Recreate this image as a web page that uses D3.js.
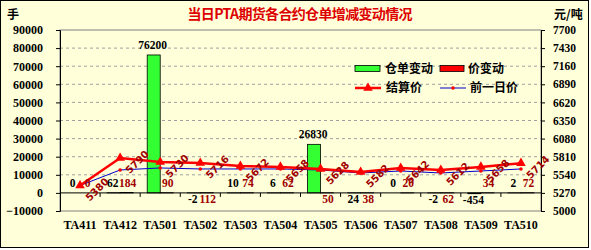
<!DOCTYPE html>
<html>
<head>
<meta charset="utf-8">
<script src="https://cdn.jsdelivr.net/npm/d3@7"></script>
<style>
body { margin: 0; background: #fff; }
svg text { font-family: "Liberation Serif", "Noto Sans CJK SC", serif; font-weight: bold; }
svg text.cjk { font-family: "Noto Sans CJK SC", sans-serif; }
svg text.rot { font-family: "DejaVu Sans", sans-serif; }
</style>
</head>
<body>
<svg id="chart" width="591" height="250"></svg>
<script>
// contracts and values
const contracts = ['TA411', 'TA412', 'TA501', 'TA502', 'TA503', 'TA504', 'TA505', 'TA506', 'TA507', 'TA508', 'TA509', 'TA510'];
const stockChange = [0, 62, 76200, -2, 10, 6, 26830, 24, 0, -2, -454, 2];      // 仓单变动 (手)
const priceChange = [0, 184, 90, 112, 74, 62, 50, 38, 20, 62, 34, 72];         // 价变动
const settlePrice = [5380, 5790, 5730, 5716, 5672, 5658, 5628, 5582, 5642, 5612, 5658, 5714]; // 结算价
const prevPrice = [5380, 5612, 5642, 5627, 5627, 5627, 5612, 5567, 5597, 5567, 5597, 5627];   // 前一日价
const leftTicks = [-10000, 0, 10000, 20000, 30000, 40000, 50000, 60000, 70000, 80000, 90000];
const rightTicks = [5000, 5270, 5540, 5810, 6080, 6350, 6620, 6890, 7160, 7430, 7700];

const svg = d3.select('#chart');
const plotLeft = 60, plotRight = 541, plotTop = 30, plotBottom = 211;

// labels that sit under the zero line in the original
const lowStock = ['TA506'];
const lowPrice = ['TA502', 'TA505', 'TA506', 'TA508'];

svg.append('rect')
    .attr('x', 0.5).attr('y', 0.5)
    .attr('width', 588).attr('height', 247)
    .attr('fill', '#ffffda')
    .attr('stroke', '#000');

const x = d3.scaleBand().domain(contracts).range([plotLeft, plotRight]);
const bw = x.bandwidth();
const cx = c => x(c) + bw / 2;
const yL = d3.scaleLinear().domain([-10000, 90000]).range([plotBottom, plotTop]);
const yR = d3.scaleLinear().domain([5000, 7700]).range([plotBottom, plotTop]);
const y0 = yL(0);

// dashed grid
svg.append('g').selectAll('line')
    .data(leftTicks.filter(t => t !== 0 && t !== -10000 && t !== 90000))
    .enter().append('line')
    .attr('x1', plotLeft).attr('x2', plotRight)
    .attr('y1', d => yL(d)).attr('y2', d => yL(d))
    .attr('stroke', '#a0a0a0')
    .attr('stroke-dasharray', '3,3');

svg.append('rect')
    .attr('x', plotLeft).attr('y', plotTop)
    .attr('width', plotRight - plotLeft).attr('height', plotBottom - plotTop)
    .attr('fill', 'none')
    .attr('stroke', '#808080');

// bars
const barW = 13;
svg.append('g').selectAll('rect')
    .data(contracts)
    .enter().append('rect')
    .attr('x', c => cx(c) - barW)
    .attr('y', (c, i) => yL(Math.max(stockChange[i], 0)))
    .attr('width', barW)
    .attr('height', (c, i) => Math.abs(yL(stockChange[i]) - y0))
    .attr('fill', '#33ff33')
    .attr('stroke', '#000')
    .attr('stroke-width', 0.8);

svg.append('g').selectAll('rect')
    .data(contracts)
    .enter().append('rect')
    .attr('x', c => cx(c))
    .attr('y', (c, i) => yL(Math.max(priceChange[i], 0)))
    .attr('width', barW)
    .attr('height', (c, i) => Math.abs(yL(priceChange[i]) - y0))
    .attr('fill', '#ff0000')
    .attr('stroke', '#000')
    .attr('stroke-width', 0.8);

// zero line with category ticks
svg.append('line')
    .attr('x1', plotLeft).attr('x2', plotRight)
    .attr('y1', y0).attr('y2', y0)
    .attr('stroke', '#000');
svg.append('g').selectAll('line')
    .data(contracts.slice(1))
    .enter().append('line')
    .attr('x1', c => x(c)).attr('x2', c => x(c))
    .attr('y1', y0).attr('y2', y0 + 4)
    .attr('stroke', '#000');

// axes
const axL = svg.append('g')
    .attr('transform', `translate(${plotLeft},0)`)
    .call(d3.axisLeft(yL).tickValues(leftTicks).tickSize(4).tickPadding(13).tickFormat(d3.format('d')));
const axR = svg.append('g')
    .attr('transform', `translate(${plotRight},0)`)
    .call(d3.axisRight(yR).tickValues(rightTicks).tickSize(4).tickPadding(8).tickFormat(d3.format('d')));
const axB = svg.append('g')
    .attr('transform', `translate(0,${plotBottom})`)
    .call(d3.axisBottom(x).tickSize(0).tickPadding(9));
axB.select('.domain').remove();
[axL, axR, axB].forEach(a => {
    a.attr('font-size', 12).attr('font-family', null);
    a.selectAll('text').attr('fill', '#000');
    a.selectAll('.domain, line').attr('stroke', '#000');
});
axR.attr('font-size', 11.5);

// lines
const priceLine = d3.line().x((d, i) => cx(contracts[i])).y(d => yR(d));
svg.append('path')
    .attr('d', priceLine(prevPrice))
    .attr('fill', 'none')
    .attr('stroke', '#0000cc')
    .attr('stroke-width', 1);
svg.append('g').selectAll('circle')
    .data(prevPrice)
    .enter().append('circle')
    .attr('cx', (d, i) => cx(contracts[i]))
    .attr('cy', d => yR(d))
    .attr('r', 1.8)
    .attr('fill', '#ff0000');

svg.append('path')
    .attr('d', priceLine(settlePrice))
    .attr('fill', 'none')
    .attr('stroke', '#ff0000')
    .attr('stroke-width', 2.5);
svg.append('g').selectAll('path')
    .data(settlePrice)
    .enter().append('path')
    .attr('d', d3.symbol(d3.symbolTriangle).size(40))
    .attr('transform', (d, i) => `translate(${cx(contracts[i])},${yR(d)})`)
    .attr('fill', '#ff0000');

// rotated settlement labels
svg.append('g').selectAll('text')
    .data(settlePrice)
    .enter().append('text')
    .attr('class', 'rot')
    .attr('transform', (d, i) => `translate(${cx(contracts[i]) + 17},${yR(d) + 4}) rotate(-45)`)
    .attr('text-anchor', 'middle')
    .attr('dy', '0.35em')
    .attr('font-size', 10)
    .attr('fill', '#a00000')
    .text(d => d);

// bar value labels
svg.append('g').selectAll('text')
    .data(contracts)
    .enter().append('text')
    .attr('x', c => cx(c) - barW / 2 - 1)
    .attr('y', (c, i) => {
        const v = stockChange[i];
        if (v < 0 || lowStock.includes(c)) return yL(Math.min(v, 0)) + 10;
        return yL(v) - 6;
    })
    .attr('text-anchor', 'middle')
    .attr('font-size', 11.5)
    .attr('fill', '#000')
    .text((c, i) => stockChange[i]);

svg.append('g').selectAll('text')
    .data(contracts)
    .enter().append('text')
    .attr('x', c => cx(c) + barW / 2 + 1)
    .attr('y', (c, i) => lowPrice.includes(c) ? y0 + 10 : yL(priceChange[i]) - 6)
    .attr('text-anchor', 'middle')
    .attr('font-size', 11.5)
    .attr('fill', '#a00000')
    .text((c, i) => Math.abs(priceChange[i]));

// titles and units
svg.append('text')
    .attr('class', 'cjk')
    .attr('x', 300).attr('y', 14)
    .attr('dy', '0.35em')
    .attr('text-anchor', 'middle')
    .attr('font-size', 14)
    .attr('fill', '#dd0000')
    .attr('textLength', 225)
    .text('当日PTA期货各合约仓单增减变动情况');
svg.append('text')
    .attr('class', 'cjk')
    .attr('x', 7).attr('y', 15).attr('dy', '0.35em')
    .attr('font-size', 12)
    .text('手');
svg.append('text')
    .attr('class', 'cjk')
    .attr('x', 554).attr('y', 15).attr('dy', '0.35em')
    .attr('font-size', 12)
    .text('元/吨');

// legend
const legend = svg.append('g');
legend.append('rect').attr('x', 355).attr('y', 65.5).attr('width', 25).attr('height', 6)
    .attr('fill', '#33ff33').attr('stroke', '#000').attr('stroke-width', 0.8);
legend.append('rect').attr('x', 440).attr('y', 65.5).attr('width', 24).attr('height', 6)
    .attr('fill', '#ff0000').attr('stroke', '#000').attr('stroke-width', 0.8);
legend.append('line').attr('x1', 355).attr('x2', 381).attr('y1', 88).attr('y2', 88)
    .attr('stroke', '#ff0000').attr('stroke-width', 2.5);
legend.append('path').attr('d', d3.symbol(d3.symbolTriangle).size(40))
    .attr('transform', 'translate(368,88)').attr('fill', '#ff0000');
legend.append('line').attr('x1', 440).attr('x2', 466).attr('y1', 88).attr('y2', 88)
    .attr('stroke', '#0000cc').attr('stroke-width', 1);
legend.append('circle').attr('cx', 453).attr('cy', 88).attr('r', 1.8).attr('fill', '#ff0000');

const legendItems = [['仓单变动', 385, 68.5], ['价变动', 468, 68.5], ['结算价', 386, 88], ['前一日价', 470, 88]];
legend.selectAll('text.item')
    .data(legendItems)
    .enter().append('text')
    .attr('class', 'cjk item')
    .attr('x', d => d[1]).attr('y', d => d[2])
    .attr('dy', '0.35em')
    .attr('font-size', 12)
    .text(d => d[0]);
</script>
</body>
</html>
